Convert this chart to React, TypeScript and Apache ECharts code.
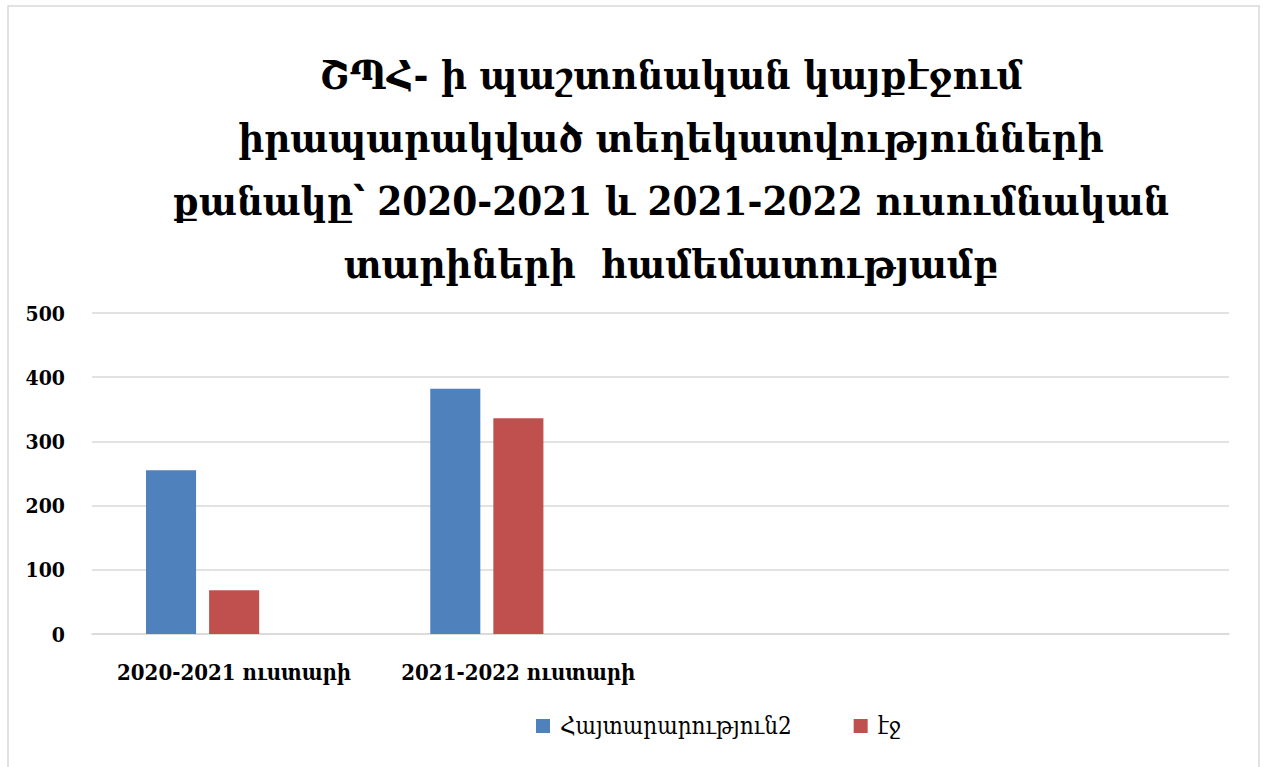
import React, { useEffect, useRef } from "react";
import * as echarts from "echarts";

const titleText =
  "ՇՊՀ- ի պաշտոնական կայքէջում\nիրապարակված տեղեկատվությունների\nքանակը՝ 2020-2021 և 2021-2022 ուսումնական\nտարիների  համեմատությամբ";
const categories = ["2020-2021 ուստարի", "2021-2022 ուստարի", "", ""];
const seriesNames = ["Հայտարարություն2", "էջ"];
const announcements = [255, 382, null, null];
const pages = [68, 336, null, null];
const emptySeries: (number | null)[] = [null, null, null, null];
const yTicks = [0, 100, 200, 300, 400, 500];

const FONT = "'DejaVu Serif Condensed', 'DejaVu Serif', serif";

export default function App() {
  const ref = useRef<HTMLDivElement>(null);
  useEffect(() => {
    if (!ref.current) return;
    const chart = echarts.init(ref.current, null, { renderer: "svg" });
    chart.setOption({
      animation: false,
      backgroundColor: "#ffffff",
      graphic: [
        {
          type: "rect",
          shape: { x: 8, y: 6, width: 1251, height: 780 },
          style: { fill: "none", stroke: "#d9d9d9", lineWidth: 1.5 },
          silent: true,
        },
      ],
      title: {
        text: titleText,
        left: 666,
        textAlign: "center",
        top: 38,
        textStyle: {
          fontFamily: FONT,
          fontSize: 40,
          fontWeight: "bold",
          color: "#000000",
          lineHeight: 63,
        },
      },
      legend: {
        data: seriesNames,
        bottom: 24,
        left: 531,
        itemWidth: 14,
        itemHeight: 14,
        itemGap: 62,
        icon: "rect",
        textStyle: {
          fontFamily: FONT,
          fontSize: 24,
          color: "#000000",
          padding: [0, 0, 0, 5],
        },
      },
      grid: { left: 92, right: 34, top: 313, bottom: 133 },
      xAxis: {
        type: "category",
        data: categories,
        axisLine: { show: true, lineStyle: { color: "#d9d9d9", width: 1.5 } },
        axisTick: { show: false },
        axisLabel: {
          fontFamily: FONT,
          fontSize: 22,
          fontWeight: "bold",
          color: "#000000",
          margin: 27,
          interval: 0,
        },
      },
      yAxis: {
        type: "value",
        min: yTicks[0],
        max: yTicks[yTicks.length - 1],
        interval: 100,
        axisLine: { show: false },
        axisTick: { show: false },
        splitLine: { lineStyle: { color: "#d9d9d9", width: 1.5 } },
        axisLabel: {
          fontFamily: FONT,
          fontSize: 21,
          fontWeight: "bold",
          color: "#000000",
          margin: 27,
        },
      },
      series: [
        {
          name: seriesNames[0],
          type: "bar",
          data: announcements,
          itemStyle: { color: "#4f81bd" },
          barGap: "26%",
          barCategoryGap: "38%",
        },
        {
          name: seriesNames[1],
          type: "bar",
          data: pages,
          itemStyle: { color: "#c0504d" },
        },
        {
          name: "",
          type: "bar",
          data: emptySeries,
          itemStyle: { color: "#9bbb59" },
        },
      ],
    });
    return () => chart.dispose();
  }, []);
  return (
    <div
      ref={ref}
      style={{ position: "absolute", left: 0, top: 0, width: 1263, height: 767 }}
    />
  );
}
